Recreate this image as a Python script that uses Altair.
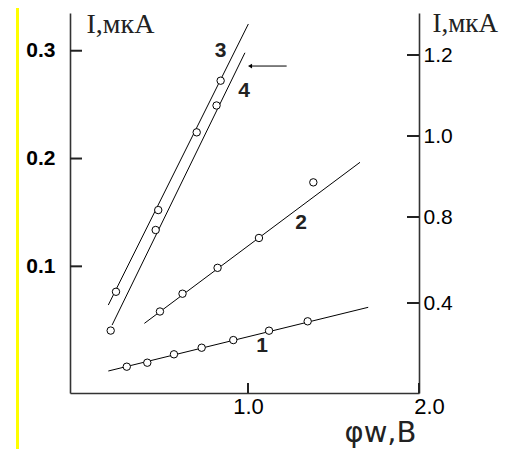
import altair as alt
import pandas as pd

# ---------------- data ----------------
# x: φw, V ; y: I expressed in left-axis units
S1_X = [0.291, 0.411, 0.567, 0.729, 0.914, 1.123, 1.349]
S1_Y = [0.0069, 0.0106, 0.0184, 0.0245, 0.0316, 0.0403, 0.0490]
S2_X = [0.485, 0.617, 0.822, 1.064, 1.382]
S2_Y = [0.0581, 0.0746, 0.0986, 0.1263, 0.1779]
S3_X = [0.228, 0.475, 0.700, 0.840]
S3_Y = [0.0764, 0.1522, 0.2243, 0.2722]
S4_X = [0.197, 0.460, 0.816]
S4_Y = [0.0404, 0.1337, 0.2492]

# fitted straight lines (end points)
L1_X = [0.183, 1.703]
L1_Y = [0.0029, 0.0620]
L2_X = [0.394, 1.655]
L2_Y = [0.0471, 0.1965]
L3_X = [0.183, 1.002]
L3_Y = [0.0641, 0.3248]
L4_X = [0.205, 0.982]
L4_Y = [0.0455, 0.2981]

CURVE_LABELS = ["1", "2", "3", "4"]
LABEL_X = [1.082, 1.310, 0.840, 0.977]
LABEL_Y = [0.0261, 0.1402, 0.300, 0.2629]

ARROW_X = [1.012, 1.226]
ARROW_Y = [0.2858, 0.2858]

LEFT_TICKS = [0.1, 0.2, 0.3]
RIGHT_TICKS = [0.4, 0.8, 1.0, 1.2]
X_TICKS = [1.0, 2.0]

# ---------------- layout ----------------
W, H = 349, 380
xs = alt.Scale(domain=[-0.041, 2.0], nice=False, zero=False)
yl = alt.Scale(domain=[-0.0175, 0.335], nice=False, zero=False)
# the printed right axis is not evenly spaced: piecewise linear scale
yr = alt.Scale(domain=[-0.0186, 0.4, 0.8, 1.2, 1.304],
               range=[H, 290, 204, 42, 0], nice=False, zero=False)

pts = pd.concat([
    pd.DataFrame({"x": S1_X, "y": S1_Y, "s": "1"}),
    pd.DataFrame({"x": S2_X, "y": S2_Y, "s": "2"}),
    pd.DataFrame({"x": S3_X, "y": S3_Y, "s": "3"}),
    pd.DataFrame({"x": S4_X, "y": S4_Y, "s": "4"}),
])
lines = pd.concat([
    pd.DataFrame({"x": L1_X, "y": L1_Y, "s": "1"}),
    pd.DataFrame({"x": L2_X, "y": L2_Y, "s": "2"}),
    pd.DataFrame({"x": L3_X, "y": L3_Y, "s": "3"}),
    pd.DataFrame({"x": L4_X, "y": L4_Y, "s": "4"}),
])
labels = pd.DataFrame({"x": LABEL_X, "y": LABEL_Y, "t": CURVE_LABELS})
arrow = pd.DataFrame({"x": [ARROW_X[0]], "x2": [ARROW_X[1]], "y": [ARROW_Y[0]]})
yellow_df = pd.DataFrame({"x": [X_TICKS[0]], "y": [LEFT_TICKS[0]]})

x_axis = alt.Axis(values=X_TICKS, format=".1f", tickSize=0, grid=False,
                  labelFont="Liberation Sans", labelFontSize=22, labelColor="black",
                  labelPadding=3, domainColor="#333", domainWidth=1.6,
                  labelOffset={"condition": {"test": "datum.value == 2", "value": 10},
                               "value": 0},
                  title="φw,B", titleFont="DejaVu Sans", titleFontSize=29,
                  titleFontWeight="normal", titleColor="#222",
                  titleX=274, titleY=48, titleAlign="left", titleBaseline="alphabetic",
                  labelOverlap=False, labelFlush=False)
yl_axis = alt.Axis(values=LEFT_TICKS, format=".1f", tickSize=0, grid=False,
                   labelFont="Liberation Sans", labelFontSize=21, labelFontWeight="bold",
                   labelColor="black", labelPadding=15,
                   domainColor="#333", domainWidth=1.6,
                   title="I,мкА", titleFont="Liberation Serif", titleFontSize=28,
                   titleFontWeight="normal", titleColor="#222", titleAngle=0,
                   titleX=16, titleY=19, titleAlign="left", titleBaseline="alphabetic")
yr_axis = alt.Axis(orient="right", values=RIGHT_TICKS, format=".1f", tickSize=0,
                   grid=False, labelFont="Liberation Sans", labelFontSize=21,
                   labelColor="black", labelPadding=4,
                   domainColor="#333", domainWidth=1.6,
                   title="I,мкА", titleFont="Liberation Serif", titleFontSize=27,
                   titleFontWeight="normal", titleColor="#222", titleAngle=0,
                   titleX=13, titleY=18, titleAlign="left", titleBaseline="alphabetic")

X = lambda f="x": alt.X(f"{f}:Q", scale=xs, axis=x_axis)
YL = lambda f="y": alt.Y(f"{f}:Q", scale=yl, axis=yl_axis)

line_layer = alt.Chart(lines).mark_line(color="black", strokeWidth=1).encode(
    x=X(), y=YL(), detail="s:N",
)
point_layer = alt.Chart(pts).mark_point(
    shape="circle", filled=True, fill="white", stroke="black",
    strokeWidth=1, size=55, opacity=1,
).encode(x=X(), y=YL())
label_layer = alt.Chart(labels).mark_text(
    font="Liberation Sans", fontSize=21, fontWeight="bold", color="#222",
    align="center", baseline="middle",
).encode(x=X(), y=YL(), text="t:N")
arrow_line = alt.Chart(arrow).mark_rule(color="black", strokeWidth=1).encode(
    x=X(), x2="x2:Q", y=YL(),
)
arrow_head = alt.Chart(arrow).mark_point(
    shape="triangle-left", filled=True, color="black", size=22, opacity=1,
).encode(x=X(), y=YL())
left_ticks = alt.Chart(pd.DataFrame({"v": LEFT_TICKS})).mark_rule(
    color="#222", strokeWidth=2).encode(
    y=YL("v"), x=alt.value(0), x2=alt.value(12),
)
x_ticks = alt.Chart(pd.DataFrame({"v": X_TICKS})).mark_rule(
    color="#222", strokeWidth=2).encode(
    x=X("v"), y=alt.value(H - 10), y2=alt.value(H),
)
yellow = alt.Chart(yellow_df).mark_rule(
    color="#ffff00", strokeWidth=3).encode(
    x=alt.value(-52.5), y=alt.value(-9), y2=alt.value(H + 64),
)

left_group = alt.layer(line_layer, point_layer, label_layer, arrow_line,
                       arrow_head, left_ticks, x_ticks, yellow)

right_group = alt.Chart(pd.DataFrame({"v": RIGHT_TICKS})).mark_rule(
    color="#222", strokeWidth=2).encode(
    y=alt.Y("v:Q", scale=yr, axis=yr_axis),
    x=alt.value(W - 12), x2=alt.value(W),
)

chart = alt.layer(left_group, right_group).resolve_scale(y="independent").properties(
    width=W, height=H,
    padding={"left": 62, "top": 5, "right": 90, "bottom": 56},
    autosize=alt.AutoSizeParams(type="none"),
    background="white",
).configure_view(stroke=None)

chart.save("out.html", embed_options={"renderer": "svg", "actions": False})
